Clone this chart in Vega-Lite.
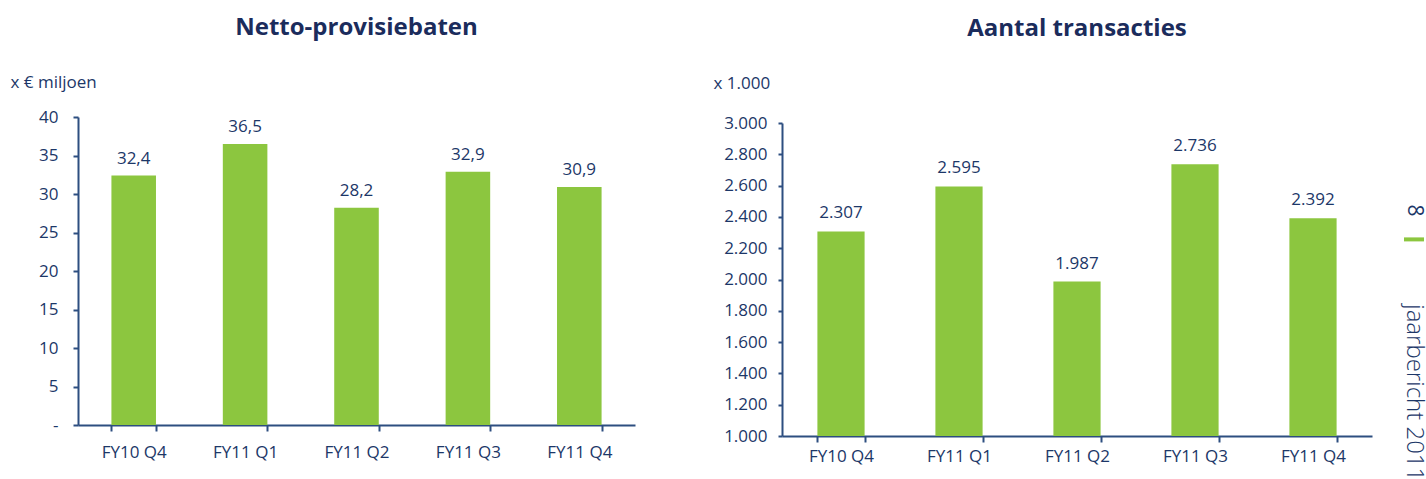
{
  "$schema": "https://vega.github.io/schema/vega-lite/v6.json",
  "padding": {"left": 10, "top": 16, "right": 0, "bottom": 0},
  "config": {
    "locale": {"number": {"decimal": ",", "thousands": ".", "grouping": [3], "currency": ["€ ", ""]}},
    "view": {"stroke": null},
    "font": "Open Sans",
    "axis": {
      "domainColor": "#2d4e80", "domainWidth": 2, "tickColor": "#2d4e80", "tickWidth": 2,
      "labelColor": "#1c3768", "labelFontSize": 17, "titleColor": "#1c3768", "titleFontSize": 17,
      "titleFontWeight": "normal", "grid": false, "labelFont": "Open Sans", "titleFont": "Open Sans"
    },
    "title": {"fontSize": 24, "fontWeight": "bold", "color": "#1b2c5c", "anchor": "middle", "font": "Open Sans"}
  },
  "spacing": 78,
  "hconcat": [
    {
      "title": {"text": "Netto-provisiebaten", "offset": 33},
      "width": 557,
      "height": 308,
      "data": {"values": [
        {"kwartaal": "FY10 Q4", "waarde": 32.4},
        {"kwartaal": "FY11 Q1", "waarde": 36.5},
        {"kwartaal": "FY11 Q2", "waarde": 28.2},
        {"kwartaal": "FY11 Q3", "waarde": 32.9},
        {"kwartaal": "FY11 Q4", "waarde": 30.9}
      ]},
      "encoding": {
        "x": {"field": "kwartaal", "type": "nominal", "sort": null,
          "scale": {"paddingInner": 0.6, "paddingOuter": 0.3},
          "axis": {"title": null, "tickBand": "extent", "labelAngle": 0, "labelPadding": 13, "tickSize": 6}},
        "y": {"field": "waarde", "type": "quantitative", "scale": {"domain": [0, 40]},
          "axis": {"title": "x € miljoen", "values": [0, 5, 10, 15, 20, 25, 30, 35, 40],
            "labelExpr": "datum.value == 0 ? '-' : datum.label",
            "titleAngle": 0, "titleX": -68, "titleY": -30, "titleAlign": "left", "titleBaseline": "alphabetic",
            "labelPadding": 15, "tickSize": 5}}
      },
      "layer": [
        {"mark": {"type": "bar", "color": "#8cc63f"}},
        {"mark": {"type": "text", "dy": -12, "baseline": "alphabetic", "fontSize": 17, "color": "#1c3768"},
          "encoding": {"text": {"field": "waarde", "type": "quantitative", "format": ".1f"}}}
      ]
    },
    {
      "spacing": 30,
      "hconcat": [
        {
          "title": {"text": "Aantal transacties", "offset": 33},
          "width": 590,
          "height": 319,
          "data": {"values": [
            {"kwartaal": "FY10 Q4", "aantal": 2307},
            {"kwartaal": "FY11 Q1", "aantal": 2595},
            {"kwartaal": "FY11 Q2", "aantal": 1987},
            {"kwartaal": "FY11 Q3", "aantal": 2736},
            {"kwartaal": "FY11 Q4", "aantal": 2392}
          ]},
          "encoding": {
            "x": {"field": "kwartaal", "type": "nominal", "sort": null,
              "scale": {"paddingInner": 0.6, "paddingOuter": 0.3},
              "axis": {"title": null, "tickBand": "extent", "labelAngle": 0, "labelPadding": 6, "tickSize": 6}},
            "y": {"field": "aantal", "type": "quantitative", "scale": {"domain": [1000, 3000], "zero": false, "range": [319, 6]},
              "axis": {"title": "x 1.000", "values": [1000, 1200, 1400, 1600, 1800, 2000, 2200, 2400, 2600, 2800, 3000],
                "format": ",d",
                "titleAngle": 0, "titleX": -69, "titleY": -29, "titleAlign": "left", "titleBaseline": "alphabetic",
                "labelPadding": 11, "tickSize": 4}}
          },
          "layer": [
            {"mark": {"type": "bar", "color": "#8cc63f"}, "encoding": {"y2": {"datum": 1000}}},
            {"mark": {"type": "text", "dy": -13, "baseline": "alphabetic", "fontSize": 17, "color": "#1c3768"},
              "encoding": {"text": {"field": "aantal", "type": "quantitative", "format": ",d"}}}
          ]
        },
        {
          "width": 20,
          "height": 360,
          "data": {"values": [{"t": "8", "s": "jaarbericht 2011"}]},
          "layer": [
            {"mark": {"type": "text", "angle": 90, "fontSize": 21, "color": "#1c3768", "align": "center", "baseline": "middle"},
              "encoding": {"text": {"field": "t"}, "y": {"datum": 104, "type": "quantitative", "scale": {"domain": [0, 360], "reverse": true}, "axis": null}}},
            {"mark": {"type": "rule", "color": "#8cc63f", "strokeWidth": 4},
              "encoding": {"y": {"datum": 136, "type": "quantitative"}}},
            {"mark": {"type": "text", "angle": 90, "fontSize": 24, "fontWeight": 300, "color": "#1c3768", "align": "left", "baseline": "middle"},
              "encoding": {"text": {"field": "s"}, "y": {"datum": 208, "type": "quantitative"}}}
          ]
        }
      ]
    }
  ]
}
